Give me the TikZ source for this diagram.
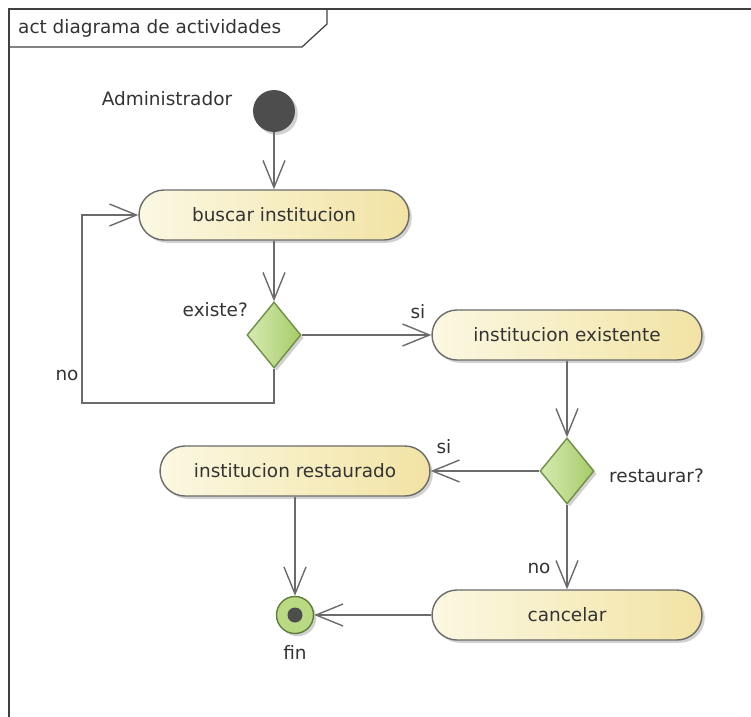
\documentclass[tikz,border=0pt]{standalone}
\usepackage{fontspec}
\setmainfont{DejaVu Sans}
\usetikzlibrary{arrows.meta,shapes.geometric,shadows}
\definecolor{lineGray}{HTML}{6B6B6B}
\definecolor{frameGray}{HTML}{404040}
\definecolor{txtGray}{HTML}{333333}
\definecolor{actL}{HTML}{FBF8E2}
\definecolor{actR}{HTML}{F2E3A4}
\definecolor{decL}{HTML}{D6EAB2}
\definecolor{decR}{HTML}{A6CC68}
\definecolor{decEdge}{HTML}{6F8F45}
\definecolor{startFill}{HTML}{4D4D4D}
\definecolor{finFill}{HTML}{B9DA82}
\definecolor{finEdge}{HTML}{5E7F3A}
\begin{document}
\begin{tikzpicture}[
 x=.02cm,y=-.02cm,
 line/.style={line width=.8pt,draw=lineGray},
 flow/.style={line,-{Straight Barb[length=.54cm,width=.44cm]}},
 shade/.style={drop shadow={shadow xshift=1.6pt,shadow yshift=-1.6pt,fill=black!40,opacity=.45}},
 action/.style={rectangle,rounded corners=.5cm,draw=lineGray,line width=.8pt,
  minimum width=5.4cm,minimum height=1cm,left color=actL,right color=actR,shade},
 decision/.style={diamond,draw=decEdge,line width=.8pt,minimum width=1.08cm,
  minimum height=1.32cm,inner sep=0pt,left color=decL,right color=decR,shade},
 lbl/.style={text=txtGray},
 every node/.style={font=\fontsize{10.5}{12}\selectfont,text=txtGray}]
 \useasboundingbox (0,0) rectangle (751,717);
 % frame and title tab
 \draw[draw=frameGray,line width=1.2pt] (9,717) -- (9,9) -- (751,9);
 \draw[draw=frameGray,line width=.7pt] (9,47) -- (302,47) -- (327,24) -- (327,9);
 \node[lbl,anchor=west] (title) at (12,28) {act diagrama de actividades};
 % nodes
 \node[circle,fill=startFill,minimum size=.84cm,inner sep=0pt,shade] (start) at (274,111) {};
 \node[lbl] (adminlbl) at (167,99) {Administrador};
 \node[action] (buscar) at (274,215) {buscar institucion};
 \node[decision] (existe) at (274,335) {};
 \node[lbl,anchor=east] (existelbl) at (254,310) {existe?};
 \node[action] (existente) at (567,335) {institucion existente};
 \node[decision] (restaurar) at (567,471) {};
 \node[lbl,anchor=west] (restaurarlbl) at (603,476) {restaurar?};
 \node[action] (restaurado) at (295,471) {institucion restaurado};
 \node[action] (cancelar) at (567,615) {cancelar};
 \node[circle,draw=finEdge,fill=finFill,line width=.8pt,minimum size=.74cm,inner sep=0pt,shade] (fin) at (295,615) {};
 \node[circle,fill=startFill,minimum size=.3cm,inner sep=0pt] (findot) at (fin) {};
 \node[lbl] (finlbl) at (295,652) {fin};
 \coordinate (loopbl) at (82,403);
 % flows
 \draw[flow] (start) -- (buscar);
 \draw[flow] (buscar) -- (existe);
 \draw[flow] (existe.south) |- (loopbl) |- (buscar.west);
 \node[lbl] (nolbl) at (67,375) {no};
 \draw[flow] (existe.east) -- (existente.west);
 \node[lbl] (silbl) at (418,312) {si};
 \draw[flow] (existente) -- (restaurar);
 \draw[flow] (restaurar.west) -- (restaurado.east);
 \node[lbl] (silbltwo) at (444,447) {si};
 \draw[flow] (restaurar.south) -- (cancelar.north);
 \node[lbl] (nolbltwo) at (539,568) {no};
 \draw[flow] (restaurado.south) -- (fin.north);
 \draw[flow] (cancelar.west) -- (fin.east);
\end{tikzpicture}
\end{document}
